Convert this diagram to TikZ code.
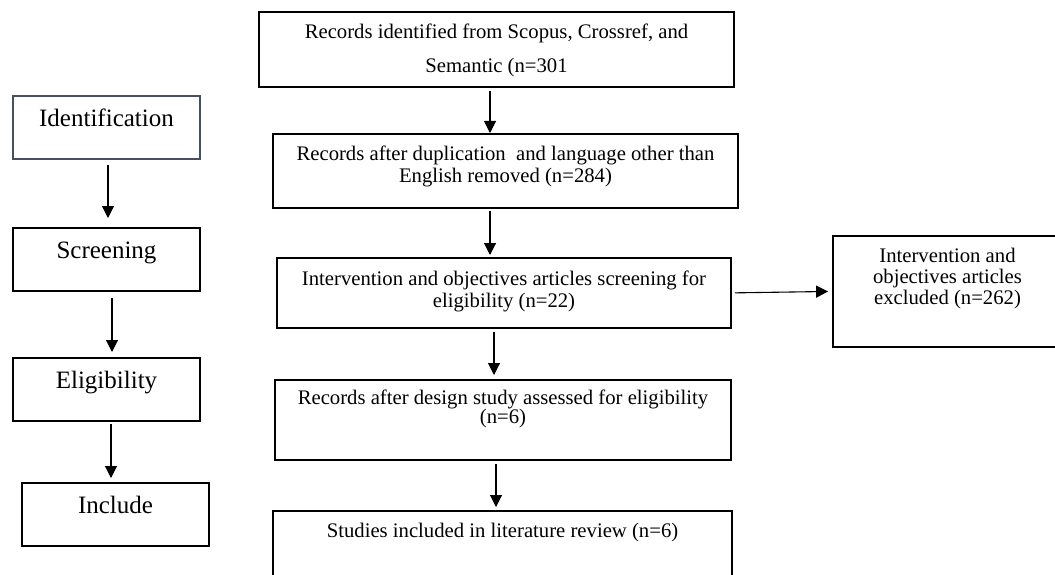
\documentclass[tikz,border=0pt]{standalone}
\usepackage{fontspec}
\setmainfont{Liberation Serif}
\usetikzlibrary{arrows.meta}
\definecolor{idgray}{HTML}{465062}

\tikzset{
  stage/.style={draw, line width=1.8pt, anchor=north, inner ysep=0pt, minimum width=187pt,
    font=\fontsize{25}{30}\selectfont, text height=31pt, text depth=32pt},
  record/.style={draw, line width=1.8pt, anchor=north, inner ysep=0pt, align=center,
    font=\fontsize{20.7}{22}\selectfont, text height=27pt},
  flow/.style={-{Triangle[length=12pt,width=12pt]}, line width=1.1pt},
}

\begin{document}
\begin{tikzpicture}[x=1pt,y=-1pt]
\useasboundingbox (0,0) rectangle (1055,575);
% stages on the left
\node[stage, draw=idgray] (ident) at (106.5,95) {Identification};
\node[stage] (screen) at (106.5,227) {Screening};
\node[stage] (elig) at (106.5,357) {Eligibility};
\node[stage] (incl) at (115.5,482) {Include};

% records in the middle
\node[record, minimum width=475pt, text height=61pt, text depth=14pt] (found) at (496.5,11)
  {Records identified from Scopus, Crossref, and\\[12pt] Semantic (n=301};
\node[record, minimum width=465pt, text height=49pt, text depth=25pt] (dedup) at (505.5,133)
  {Records after duplication~ and language other than\\English removed (n=284)};
\node[record, minimum width=454pt, text height=50pt, text depth=20pt] (screened) at (504,257)
  {Intervention and objectives articles screening for\\eligibility (n=22)};
\node[record, minimum width=456pt, text height=44pt, text depth=36pt] (design) at (503,379)
  {Records after design study assessed for eligibility\\[-3pt](n=6)};
\node[record, minimum width=459pt, text depth=53pt] (included) at (502.5,510)
  {Studies included in literature review (n=6)};
\node[record, minimum width=229pt, text height=69pt, text depth=42pt] (excluded) at (947.5,235)
  {Intervention and\\[-1pt]objectives articles\\[-1pt]excluded (n=262)};

% arrows
\draw[flow, shorten <=5pt, shorten >=9pt] ([xshift=1.5pt]ident.south) -- ([xshift=1.5pt]ident.south |- screen.north);
\draw[flow, shorten <=6pt, shorten >=5pt] ([xshift=5.5pt]screen.south) -- ([xshift=5.5pt]screen.south |- elig.north);
\draw[flow, shorten <=2pt, shorten >=4pt] ([xshift=4.5pt]elig.south) -- ([xshift=4.5pt]elig.south |- incl.north);

\draw[flow, shorten <=3pt] ([xshift=-6.5pt]found.south) -- ([xshift=-6.5pt]found.south |- dedup.north);
\draw[flow, shorten <=2pt, shorten >=2pt] ([xshift=-15.5pt]dedup.south) -- ([xshift=-15.5pt]dedup.south |- screened.north);
\draw[flow, shorten <=3pt, shorten >=4pt] ([xshift=-10pt]screened.south) -- ([xshift=-10pt]screened.south |- design.north);
\draw[flow, shorten <=3pt, shorten >=3pt] ([xshift=-7pt]design.south) -- ([xshift=-7pt]design.south |- included.north);
\draw[flow, shorten <=3pt, shorten >=4pt] (screened.east) -- (excluded.west);
\end{tikzpicture}
\end{document}
